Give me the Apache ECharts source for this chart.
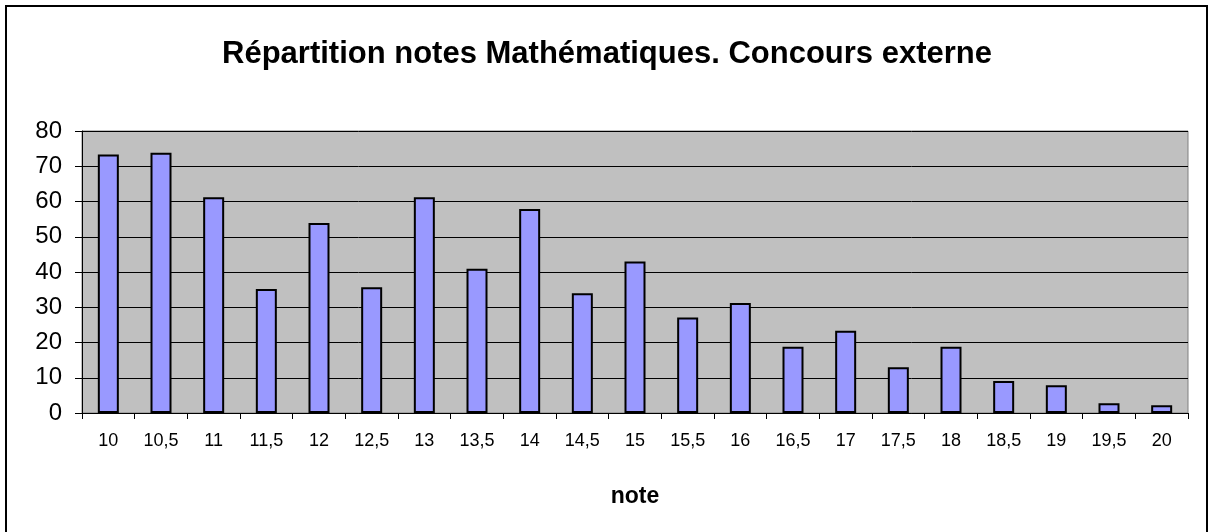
<!DOCTYPE html>
<html>
<head>
<meta charset="utf-8">
<script src="https://cdn.jsdelivr.net/npm/echarts@6/dist/echarts.min.js"></script>
<style>
  html, body { margin: 0; padding: 0; background: #fff; }
  #chart { width: 1214px; height: 532px; }
</style>
</head>
<body>
<div id="chart"></div>
<script>
const notes = [
  "10", "10,5", "11", "11,5", "12", "12,5", "13", "13,5", "14", "14,5", "15",
  "15,5", "16", "16,5", "17", "17,5", "18", "18,5", "19", "19,5", "20",
];
const effectifs = [
  73.3, 73.8, 61.2, 35.2, 53.9, 35.7, 61.2, 40.9, 57.9, 34, 43,
  27.1, 31.2, 18.8, 23.3, 13, 18.8, 9.1, 7.9, 2.8, 2.2,
];
const yTicks = [0, 10, 20, 30, 40, 50, 60, 70, 80];

const font = "Liberation Sans, Arial, sans-serif";

const chart = echarts.init(document.getElementById("chart"));
chart.setOption({
  animation: false,
  backgroundColor: "#fff",
  textStyle: { fontFamily: font },
  title: {
    text: "Répartition notes Mathématiques. Concours externe",
    left: "center",
    top: 34,
    textStyle: { fontSize: 31, fontWeight: "bold", color: "#000", fontFamily: font },
  },
  graphic: [
    {
      type: "rect",
      shape: { x: 6, y: 6, width: 1201, height: 540 },
      style: { fill: null, stroke: "#000", lineWidth: 2 },
      silent: true,
    },
  ],
  grid: {
    left: 82,
    right: 26,
    top: 131,
    bottom: 119,
    show: true,
    backgroundColor: "#C0C0C0",
    borderColor: "#808080",
    borderWidth: 1,
  },
  xAxis: {
    type: "category",
    data: notes,
    name: "note",
    nameLocation: "middle",
    nameGap: 72,
    nameTextStyle: { fontSize: 23, fontWeight: "bold", color: "#000", fontFamily: font },
    axisLine: { lineStyle: { color: "#000", width: 1 } },
    axisTick: { show: true, length: 6, lineStyle: { color: "#000" } },
    axisLabel: { color: "#000", fontSize: 18, margin: 19, interval: 0, fontFamily: font },
  },
  yAxis: {
    type: "value",
    min: yTicks[0],
    max: yTicks[yTicks.length - 1],
    interval: 10,
    axisLine: { show: true, lineStyle: { color: "#000", width: 1 } },
    axisTick: { show: true, length: 7, inside: false, lineStyle: { color: "#000" } },
    axisLabel: { color: "#000", fontSize: 24, margin: 20, fontFamily: font },
    splitLine: { show: true, lineStyle: { color: "#000", width: 1 } },
  },
  series: [
    {
      type: "bar",
      data: effectifs,
      barWidth: 21,
      itemStyle: { color: "#9999FF", borderColor: "#000", borderWidth: 2 },
    },
  ],
});
</script>
</body>
</html>
